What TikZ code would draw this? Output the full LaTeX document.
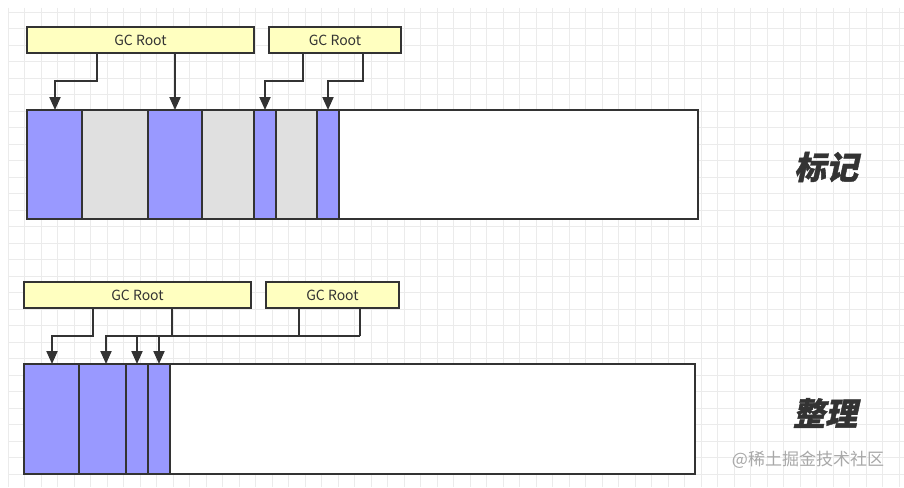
\documentclass[tikz,border=0pt]{standalone}
\usepackage{fontspec}
\usetikzlibrary{arrows.meta}
\newfontfamily\cjk{Noto Sans CJK SC}
\newfontfamily\cjkhead[FakeSlant=0.22,FakeBold=1.2]{Noto Sans CJK SC}
\definecolor{linec}{HTML}{333333}
\definecolor{liveblue}{HTML}{9999FF}
\definecolor{deadgray}{HTML}{E0E0E0}
\definecolor{rootyellow}{HTML}{FFFFC0}
\definecolor{gridc}{HTML}{EBEBEB}
\definecolor{wmc}{HTML}{A8A8A8}
\tikzset{
  seg/.style={draw=linec, line width=2pt, inner sep=0pt, outer sep=0pt, anchor=north west},
  live/.style={seg, fill=liveblue},
  dead/.style={seg, fill=deadgray},
  free/.style={seg, fill=white},
  root/.style={draw=linec, fill=rootyellow, line width=2pt, inner sep=0pt, outer sep=0pt,
    anchor=north west, minimum height=26pt, text=linec, font=\cjk\fontsize{14}{16}\selectfont},
  arr/.style={draw=linec, line width=2pt, -{Triangle[width=11pt,length=13pt]}},
  wire/.style={draw=linec, line width=2pt},
  title/.style={text=linec, font=\cjkhead\bfseries\fontsize{32}{32}\selectfont},
}
\begin{document}
\begin{tikzpicture}[x=1pt,y=-1pt]
\fill[white] (0,0) rectangle (904,487);
\useasboundingbox (0,0) rectangle (904,487);
% background grid
\foreach \i in {0,...,54} \draw[gridc, line width=0.7pt] ({8.3+16.5*\i},8) -- ({8.3+16.5*\i},487);
\foreach \j in {0,...,28} \draw[gridc, line width=0.7pt] (8,{12+16.5*\j}) -- (904,{12+16.5*\j});

% ---------- top: mark ----------
\node[root, minimum width=227pt] (r1) at (27,27) {GC Root};
\node[root, minimum width=132pt] (r2) at (269,27) {GC Root};

\node[free, minimum width=359pt, minimum height=109pt] (t8) at (339,110) {};
\node[live, minimum width=55pt, minimum height=109pt] (t1) at (27,110) {};
\node[dead, minimum width=66pt, minimum height=109pt] (t2) at (82,110) {};
\node[live, minimum width=54pt, minimum height=109pt] (t3) at (148,110) {};
\node[dead, minimum width=52pt, minimum height=109pt] (t4) at (202,110) {};
\node[live, minimum width=22pt, minimum height=109pt] (t5) at (254,110) {};
\node[dead, minimum width=41pt, minimum height=109pt] (t6) at (276,110) {};
\node[live, minimum width=22pt, minimum height=109pt] (t7) at (317,110) {};

\draw[arr] ([xshift=70pt]r1.south west) -- ++(0,28) -| ([xshift=28pt]t1.north west);
\draw[arr] ([xshift=148pt]r1.south west) -- ([xshift=27pt]t3.north west);
\draw[arr] ([xshift=34pt]r2.south west) -- ++(0,28) -| (t5.north);
\draw[arr] ([xshift=94pt]r2.south west) -- ++(0,28) -| (t7.north);

\node[title] (mark) at (826,167) {标记};

% ---------- bottom: compact ----------
\node[root, minimum width=227pt] (r3) at (24,282) {GC Root};
\node[root, minimum width=133pt] (r4) at (266,282) {GC Root};

\node[free, minimum width=525pt, minimum height=110pt] (b5) at (170,364) {};
\node[live, minimum width=55pt, minimum height=110pt] (b1) at (24,364) {};
\node[live, minimum width=47pt, minimum height=110pt] (b2) at (79,364) {};
\node[live, minimum width=22pt, minimum height=110pt] (b3) at (126,364) {};
\node[live, minimum width=22pt, minimum height=110pt] (b4) at (148,364) {};

\draw[arr] ([xshift=69pt]r3.south west) -- ++(0,28) -| ([xshift=28pt]b1.north west);
\draw[wire] ([xshift=148pt]r3.south west) -- ++(0,28);
\draw[wire] ([xshift=33pt]r4.south west) -- ++(0,28);
\draw[wire] ([xshift=94pt]r4.south west) -- ++(0,28) coordinate (busR);
\draw[arr] (busR) -| ([xshift=27pt]b2.north west);
\draw[arr] (busR -| b3.north) -- (b3.north);
\draw[arr] (busR -| b4.north) -- (b4.north);

\node[title] (tidy) at (825,413) {整理};

\node[text=wmc, font=\cjk\fontsize{17}{17}\selectfont] (wm) at (808,460) {@稀土掘金技术社区};
\end{tikzpicture}
\end{document}
